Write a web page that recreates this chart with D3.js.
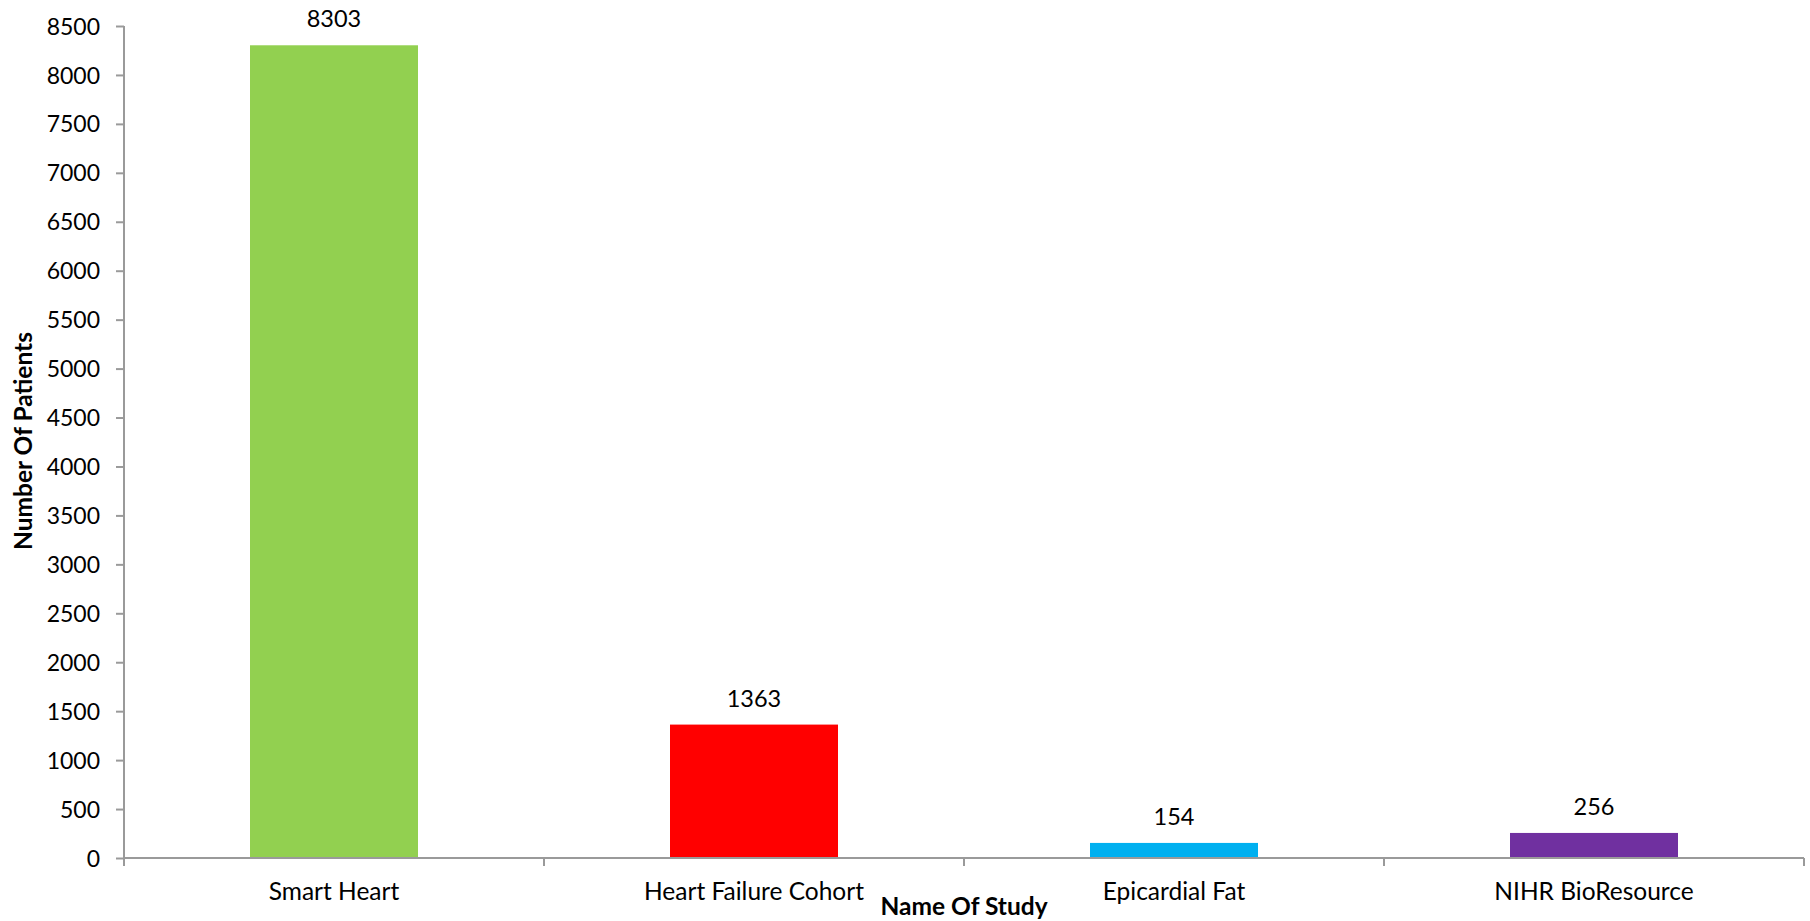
<!DOCTYPE html>
<html>
<head>
<meta charset="utf-8">
<script src="https://cdn.jsdelivr.net/npm/d3@7"></script>
<style>
  html, body { margin: 0; padding: 0; background: #fff; }
  svg { display: block; }
  text { font-family: Lato, "Open Sans", sans-serif; fill: #000; }
</style>
</head>
<body>
<svg id="chart" width="1810" height="921"></svg>
<script>
// Patients enrolled per study
const studies = ["Smart Heart", "Heart Failure Cohort", "Epicardial Fat", "NIHR BioResource"];
const patients = [8303, 1363, 154, 256];
const barColors = ["#92D050", "#FF0000", "#00B0F0", "#7030A0"];
const yTicks = [0, 500, 1000, 1500, 2000, 2500, 3000, 3500, 4000, 4500, 5000, 5500, 6000, 6500, 7000, 7500, 8000, 8500];
const xTitle = "Name Of Study";
const yTitle = "Number Of Patients";

const svg = d3.select("#chart");
const plot = { left: 124, right: 1804, top: 26, bottom: 858 };
const axisColor = "#9a9a9a";

const x = d3.scaleBand()
  .domain(studies)
  .range([plot.left, plot.right])
  .paddingInner(0.6)
  .paddingOuter(0.3);

const y = d3.scaleLinear()
  .domain([0, 8500])
  .range([plot.bottom, plot.top]);

// Bars
svg.append("g")
  .selectAll("rect")
  .data(studies)
  .join("rect")
  .attr("x", d => x(d))
  .attr("width", x.bandwidth())
  .attr("y", (d, i) => y(patients[i]))
  .attr("height", (d, i) => y(0) - y(patients[i]))
  .attr("fill", (d, i) => barColors[i]);

// Value labels above bars
svg.append("g")
  .selectAll("text")
  .data(studies)
  .join("text")
  .attr("x", d => x(d) + x.bandwidth() / 2)
  .attr("y", (d, i) => y(patients[i]) - 18)
  .attr("text-anchor", "middle")
  .style("font-size", "23.5px")
  .text((d, i) => patients[i]);

// Y axis
const yAxis = svg.append("g")
  .attr("transform", `translate(${plot.left},0)`)
  .call(d3.axisLeft(y).tickValues(yTicks).tickSize(8).tickPadding(16).tickFormat(d3.format("d")));
yAxis.select(".domain").remove();
yAxis.append("line")
  .attr("x1", 0).attr("x2", 0)
  .attr("y1", plot.top).attr("y2", plot.bottom + 8)
  .attr("stroke", axisColor).attr("stroke-width", 2);
yAxis.selectAll(".tick line").attr("stroke", axisColor).attr("stroke-width", 2);
yAxis.selectAll(".tick text")
  .style("font-size", "23px")
  .attr("fill", "#000")
  .attr("dy", "0.35em");

// X axis: baseline with boundary ticks between categories
const boundaries = d3.range(studies.length + 1).map(i => plot.left + i * x.step());
const xAxis = svg.append("g");
xAxis.append("line")
  .attr("x1", plot.left).attr("x2", plot.right)
  .attr("y1", plot.bottom).attr("y2", plot.bottom)
  .attr("stroke", axisColor).attr("stroke-width", 2);
xAxis.selectAll("line.bound")
  .data(boundaries.slice(1))
  .join("line")
  .attr("class", "bound")
  .attr("x1", d => d).attr("x2", d => d)
  .attr("y1", plot.bottom).attr("y2", plot.bottom + 8)
  .attr("stroke", axisColor).attr("stroke-width", 2);
xAxis.selectAll("text")
  .data(studies)
  .join("text")
  .attr("x", d => x(d) + x.bandwidth() / 2)
  .attr("y", 900)
  .attr("text-anchor", "middle")
  .style("font-size", "24.5px")
  .text(d => d);

// Axis titles
svg.append("text")
  .attr("x", 964)
  .attr("y", 915)
  .attr("text-anchor", "middle")
  .style("font-size", "24.5px")
  .style("font-weight", "bold")
  .text(xTitle);

svg.append("text")
  .attr("transform", "translate(32,441) rotate(-90)")
  .attr("text-anchor", "middle")
  .style("font-size", "24.5px")
  .style("font-weight", "bold")
  .text(yTitle);
</script>
</body>
</html>
